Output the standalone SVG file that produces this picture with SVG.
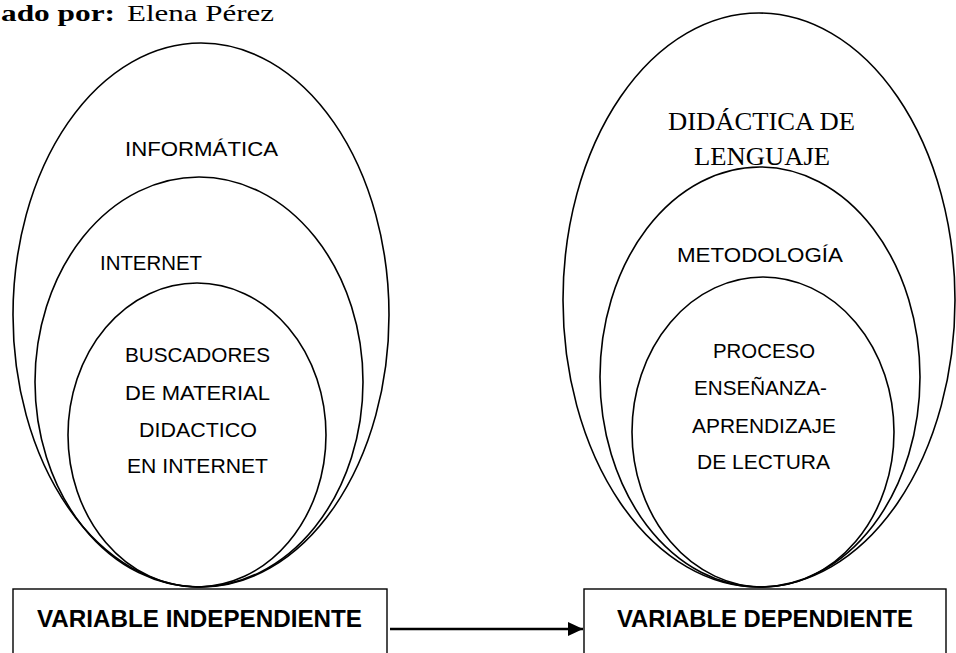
<svg xmlns="http://www.w3.org/2000/svg" width="956" height="653" viewBox="0 0 956 653">
<style>
.e{fill:none;stroke:#000;stroke-width:1.6}
.b{fill:#fff;stroke:#000;stroke-width:1.4}
.c{font-family:"Liberation Sans","Open Sans",sans-serif;font-size:21px;fill:#000}
.cb{font-family:"Liberation Sans","Open Sans",sans-serif;font-size:24px;font-weight:bold;fill:#000}
.t{font-family:"Liberation Serif","Times New Roman",serif;font-size:26px;fill:#000}
.h{font-family:"Liberation Serif","Times New Roman",serif;font-size:23px;fill:#000}
</style>
<defs>
<marker id="ah" viewBox="0 0 10 10" refX="10" refY="5" markerWidth="15" markerHeight="14" markerUnits="userSpaceOnUse" orient="auto" preserveAspectRatio="none">
<path d="M0,0 L10,5 L0,10 Z" fill="#000"/>
</marker>
</defs>
<rect width="956" height="653" fill="#fff"/>
<g id="header">
<text class="h" x="1" y="21" font-weight="bold" textLength="114" lengthAdjust="spacingAndGlyphs">ado por:</text>
<text class="h" x="127" y="21" textLength="147" lengthAdjust="spacingAndGlyphs">Elena Pérez</text>
</g>
<g id="informatica">
<ellipse class="e" cx="201" cy="315" rx="188" ry="272"/>
<text class="c" x="125" y="156" textLength="153" lengthAdjust="spacingAndGlyphs">INFORMÁTICA</text>
</g>
<g id="internet">
<ellipse class="e" cx="199" cy="382" rx="164" ry="205"/>
<text class="c" x="100" y="270" textLength="102" lengthAdjust="spacingAndGlyphs">INTERNET</text>
</g>
<g id="buscadores">
<ellipse class="e" cx="197" cy="435" rx="129" ry="152"/>
<text class="c" x="125" y="362" textLength="145" lengthAdjust="spacingAndGlyphs">BUSCADORES</text>
<text class="c" x="125" y="400" textLength="145" lengthAdjust="spacingAndGlyphs">DE MATERIAL</text>
<text class="c" x="139" y="437" textLength="118" lengthAdjust="spacingAndGlyphs">DIDACTICO</text>
<text class="c" x="127" y="473" textLength="141" lengthAdjust="spacingAndGlyphs">EN INTERNET</text>
</g>
<g id="didactica">
<ellipse class="e" cx="759" cy="300" rx="196" ry="287"/>
<text class="t" x="668" y="130" textLength="187" lengthAdjust="spacingAndGlyphs">DIDÁCTICA DE</text>
<text class="t" x="694" y="165" textLength="136" lengthAdjust="spacingAndGlyphs">LENGUAJE</text>
</g>
<g id="metodologia">
<ellipse class="e" cx="760" cy="377" rx="160" ry="210"/>
<text class="c" x="677" y="262" textLength="166" lengthAdjust="spacingAndGlyphs">METODOLOGÍA</text>
</g>
<g id="proceso">
<ellipse class="e" cx="763" cy="432" rx="131" ry="155"/>
<text class="c" x="713" y="358" textLength="102" lengthAdjust="spacingAndGlyphs">PROCESO</text>
<text class="c" x="694" y="395" textLength="133" lengthAdjust="spacingAndGlyphs">ENSEÑANZA-</text>
<text class="c" x="692" y="433" textLength="144" lengthAdjust="spacingAndGlyphs">APRENDIZAJE</text>
<text class="c" x="697" y="469" textLength="133" lengthAdjust="spacingAndGlyphs">DE LECTURA</text>
</g>
<g id="var-independiente">
<rect class="b" x="13" y="589" width="374" height="80"/>
<text class="cb" x="37" y="627" textLength="325" lengthAdjust="spacingAndGlyphs">VARIABLE INDEPENDIENTE</text>
</g>
<g id="var-dependiente">
<rect class="b" x="584" y="589" width="362" height="80"/>
<text class="cb" x="617" y="627" textLength="296" lengthAdjust="spacingAndGlyphs">VARIABLE DEPENDIENTE</text>
</g>
<g id="connectors">
<line x1="390" y1="629" x2="583" y2="629" stroke="#000" stroke-width="2.6" marker-end="url(#ah)"/>
</g>
</svg>
